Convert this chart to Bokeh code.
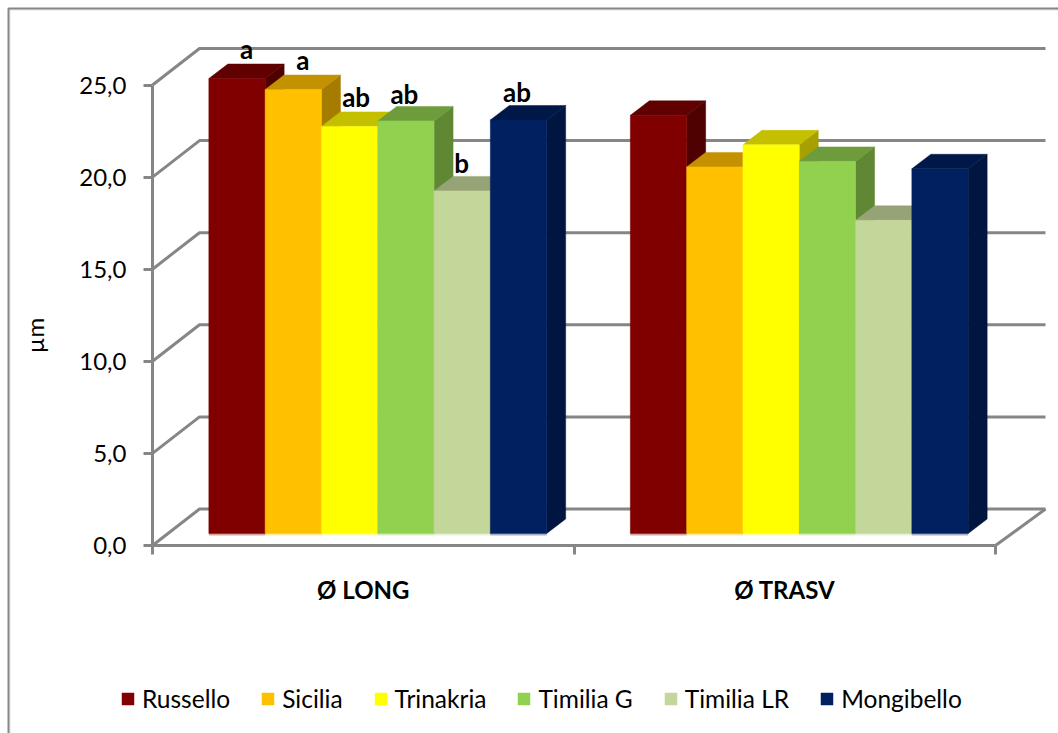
from bokeh.plotting import figure
from bokeh.models import ColumnDataSource, FixedTicker, Legend, LegendItem
from bokeh.core.properties import value
from bokeh.embed import file_html
from bokeh.resources import INLINE
import math

categories = ["Ø LONG", "Ø TRASV"]
series = ["Russello", "Sicilia", "Trinakria", "Timilia G", "Timilia LR", "Mongibello"]
long_values = [24.7, 24.1, 22.1, 22.4, 18.6, 22.45]
trasv_values = [22.7, 19.9, 21.1, 20.2, 17.0, 19.8]
long_letters = ["a", "a", "ab", "ab", "b", "ab"]
letter_shift_x = [0, 0, -3, -11, -10, -11]
letter_shift_y = [0, 0, 0, -3, -2, -2]
y_ticks = [0, 5, 10, 15, 20, 25]
front_colors = ["#800000", "#FFC000", "#FFFF00", "#92D050", "#C4D79B", "#002060"]
top_colors = ["#600000", "#C49200", "#C4C000", "#6E9C3C", "#96A376", "#001848"]
side_colors = ["#4F0000", "#A67C00", "#A6A000", "#5F8734", "#7F8B64", "#00153F"]

W, H = 1058, 733
PX_X = 421.5   # pixels per category
PX_Y = 18.42   # pixels per y unit
x0 = -152 / PX_X
y1 = 545 / PX_Y
xmax = x0 + W / PX_X
ymin = y1 - H / PX_Y
p = figure(width=W, height=H, output_backend="svg", toolbar_location=None,
           x_range=(x0, xmax), y_range=(ymin, y1),
           min_border=0, min_border_left=0, min_border_right=0,
           min_border_top=0, min_border_bottom=0,
           styles={"position": "absolute", "left": "0px", "top": "0px"})
p.outline_line_color = None
p.grid.visible = False
p.background_fill_color = "white"
p.border_fill_color = "white"

GREY = "#868686"
FONT = "Lato"

# chart frame (left and top edges)
for off, col, lw in [(9.5, "#E2E2E2", 1), (8, GREY, 2)]:
    fx, fy = x0 + off / PX_X, y1 - off / PX_Y
    p.line([fx, fx, xmax], [ymin, fy, fy], line_color=col, line_width=lw)

# 3D wall and floor
wall_dx, wall_dx_r, wall_dy = 47 / PX_X, 50 / PX_X, 36.5 / PX_Y
n_cat = len(categories)
p.multi_line(
    xs=[[0, wall_dx, n_cat + wall_dx_r] for _ in y_ticks],
    ys=[[t, t + wall_dy, t + wall_dy] for t in y_ticks],
    line_color=GREY, line_width=3)
p.line([n_cat, n_cat + wall_dx_r], [0, wall_dy], line_color=GREY, line_width=3)

# bars
plane_dx, plane_dy = 14.5 / PX_X, 12 / PX_Y
bar_w = 56.3 / PX_X
depth_dx, depth_dy = 19 / PX_X, 14.5 / PX_Y
n_s = len(series)
items = []
for i, name in enumerate(series):
    vals = [long_values[i], trasv_values[i]]
    xc = [g + 0.5 + plane_dx + (i - (n_s - 1) / 2) * bar_w for g in range(n_cat)]
    tops = [plane_dy + v for v in vals]
    p.vbar(x=xc, width=bar_w, bottom=plane_dy - 2 / PX_Y, top=plane_dy,
           fill_color=front_colors[i], fill_alpha=0.35, line_color=None)
    p.patches(
        xs=[[x + bar_w / 2, x + bar_w / 2 + depth_dx, x + bar_w / 2 + depth_dx, x + bar_w / 2] for x in xc],
        ys=[[plane_dy, plane_dy + depth_dy, t + depth_dy, t] for t in tops],
        fill_color=side_colors[i], line_color=side_colors[i], line_width=0.5)
    p.patches(
        xs=[[x - bar_w / 2, x + bar_w / 2, x + bar_w / 2 + depth_dx, x - bar_w / 2 + depth_dx] for x in xc],
        ys=[[t, t, t + depth_dy, t + depth_dy] for t in tops],
        fill_color=top_colors[i], line_color=top_colors[i], line_width=0.5)
    r = p.vbar(x=xc, width=bar_w, bottom=plane_dy, top=tops,
               fill_color=front_colors[i], line_color=front_colors[i], line_width=0.5)
    items.append(LegendItem(label=name, renderers=[r]))

# significance letters over the first group
src = ColumnDataSource(dict(
    x=[0.5 + plane_dx + (i - (n_s - 1) / 2) * bar_w + depth_dx / 2 + letter_shift_x[i] / PX_X
       for i in range(n_s)],
    y=[plane_dy + v + depth_dy + (15 + letter_shift_y[i]) / PX_Y
       for i, v in enumerate(long_values)],
    t=long_letters))
p.text(x="x", y="y", text="t", source=src, text_align="center", text_baseline="middle",
       text_font=value(FONT), text_font_style="bold", text_font_size="26px", text_color="black")

# y axis title
p.text(x=[-118 / PX_X], y=[(545 - 335) / PX_Y], text=["µm"], angle=math.pi / 2,
       text_align="center", text_baseline="middle",
       text_font=value(FONT), text_font_size="24px", text_color="black")

# axes
ya = p.yaxis[0]
ya.fixed_location = 0
ya.bounds = (min(y_ticks), max(y_ticks))
ya.ticker = FixedTicker(ticks=y_ticks)
ya.major_label_overrides = {t: f"{t:.1f}".replace(".", ",") for t in y_ticks}
ya.major_tick_in = 0
ya.major_tick_out = 9
ya.minor_tick_line_color = None
ya.axis_line_color = GREY
ya.axis_line_width = 3
ya.major_tick_line_color = GREY
ya.major_tick_line_width = 3
ya.major_label_standoff = 17
ya.major_label_text_font = FONT
ya.major_label_text_font_size = "24px"
ya.major_label_text_color = "black"

centers = [g + 0.5 for g in range(n_cat)]
xa = p.xaxis[0]
xa.fixed_location = 0
xa.bounds = (0, n_cat)
xa.ticker = FixedTicker(ticks=centers, minor_ticks=list(range(n_cat + 1)))
xa.major_label_overrides = {c: n for c, n in zip(centers, categories)}
xa.major_tick_line_color = None
xa.major_tick_in = 0
xa.major_tick_out = 0
xa.minor_tick_in = 0
xa.minor_tick_out = 9
xa.minor_tick_line_color = GREY
xa.minor_tick_line_width = 3
xa.axis_line_color = GREY
xa.axis_line_width = 3
xa.major_label_standoff = 20
xa.major_label_text_font = FONT
xa.major_label_text_font_style = "bold"
xa.major_label_text_font_size = "24px"
xa.major_label_text_color = "black"

legend = Legend(items=items, orientation="horizontal", location=(120, 20),
                background_fill_alpha=0, border_line_color=None,
                padding=0, margin=0, spacing=30, label_standoff=7,
                glyph_width=15, glyph_height=15,
                label_text_font=FONT, label_text_font_size="24.5px", label_text_color="black")
p.add_layout(legend, "center")

open("out.html", "w").write(file_html(p, INLINE))
